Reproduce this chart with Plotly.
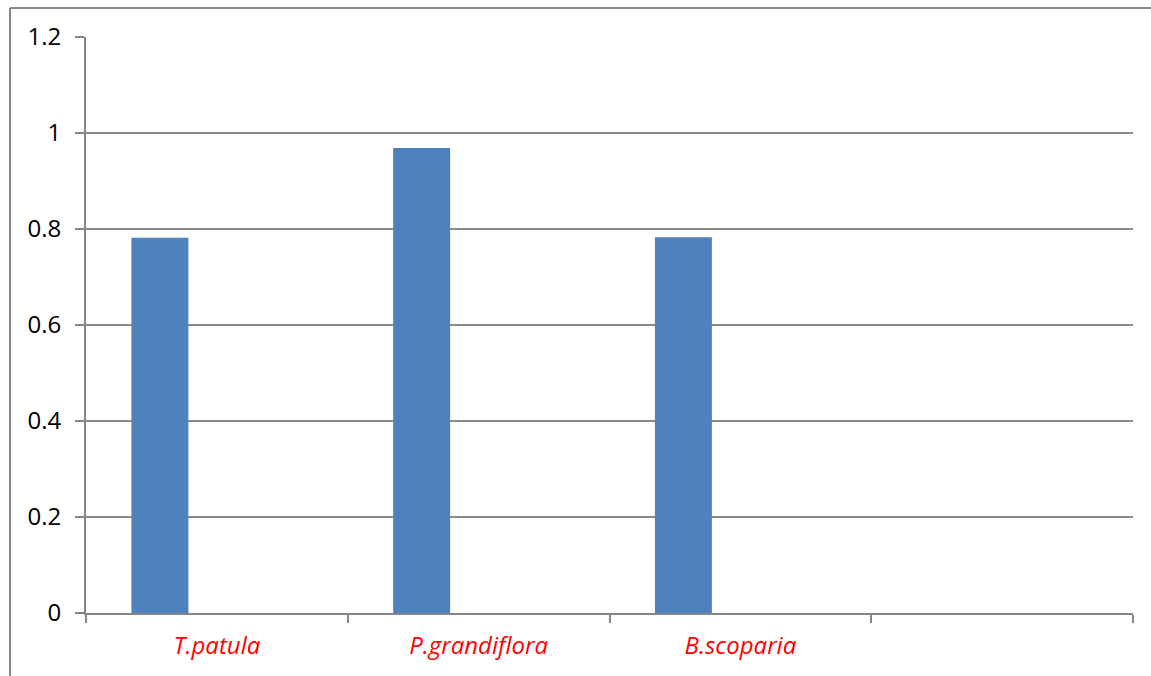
import plotly.graph_objects as go

categories = ["T.patula", "P.grandiflora", "B.scoparia", " "]
series1 = [0.782, 0.969, 0.783, None]
series2 = [None, None, None, None]
series3 = [None, None, None, None]
y_ticks = [0, 0.2, 0.4, 0.6, 0.8, 1.0, 1.2]
y_tick_text = ["0", "0.2", "0.4", "0.6", "0.8", "1", "1.2"]

fig = go.Figure()
for name, vals in [("Series1", series1), ("Series2", series2), ("Series3", series3)]:
    fig.add_trace(go.Bar(x=categories, y=vals, name=name,
                         marker=dict(color="#4F81BD", line=dict(width=0))))

W, H = 1151, 676
L, R, T, B = 86, 18, 37, 63
fig.update_layout(
    width=W, height=H,
    margin=dict(l=L, r=R, t=T, b=B),
    paper_bgcolor="white", plot_bgcolor="white",
    barmode="group", bargap=0.347, bargroupgap=0,
    showlegend=False,
    font=dict(family="'Open Sans', sans-serif", size=24, color="black"),
)
fig.update_xaxes(
    type="category", range=[-0.5, 3.5],
    showline=True, linecolor="#868686", linewidth=2,
    ticks="outside", tickson="boundaries", ticklen=8, tickwidth=2, tickcolor="#868686",
    showgrid=False,
    tickfont=dict(color="#FF0000", size=24, style="italic"),
    ticklabelstandoff=10,
)
fig.update_yaxes(
    range=[0, 1.2], tickvals=y_ticks, ticktext=y_tick_text,
    showline=True, linecolor="#868686", linewidth=2,
    ticks="outside", ticklen=9, tickwidth=2, tickcolor="#868686",
    showgrid=True, gridcolor="#8c8c8c", gridwidth=1.5,
    zeroline=False,
    tickfont=dict(color="black", size=24),
    ticklabelstandoff=9,
)
# outer chart frame (left and top edges visible)
pw, ph = W - L - R, H - T - B
fx = (10 - L) / pw
fy = 1 + (T - 8) / ph
fig.add_shape(type="line", xref="paper", yref="paper", x0=fx, x1=1.1, y0=fy, y1=fy,
              line=dict(color="#868686", width=2))
fig.add_shape(type="line", xref="paper", yref="paper", x0=fx, x1=fx, y0=-0.2, y1=fy,
              line=dict(color="#868686", width=2))
fig.write_html("out.html")
